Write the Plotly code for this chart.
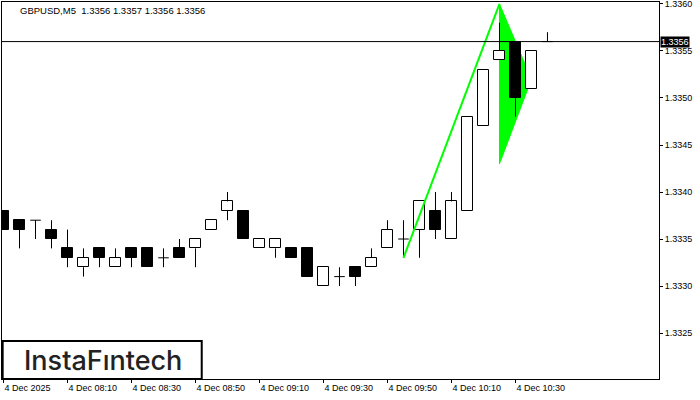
import plotly.graph_objects as go

# ---- data -------------------------------------------------------------
times = ["07:50", "07:55", "08:00", "08:05", "08:10", "08:15", "08:20", "08:25",
         "08:30", "08:35", "08:40", "08:45", "08:50", "08:55", "09:00", "09:05",
         "09:10", "09:15", "09:20", "09:25", "09:30", "09:35", "09:40", "09:45",
         "09:50", "09:55", "10:00", "10:05", "10:10", "10:15", "10:20", "10:25",
         "10:30", "10:35", "10:40"]
opens = [1.3338, 1.3337, 1.3337, 1.3336, 1.3334, 1.3332, 1.3334, 1.3332,
         1.3334, 1.3334, 1.3333, 1.3334, 1.3334, 1.3336, 1.3338, 1.3338,
         1.3334, 1.3334, 1.3334, 1.3334, 1.3330, 1.3331, 1.3332, 1.3332,
         1.3334, 1.3335, 1.3336, 1.3338, 1.3335, 1.3338, 1.3347, 1.3354,
         1.3356, 1.3351, 1.3356]
highs = [1.3338, 1.3337, 1.3337, 1.3337, 1.3336, 1.3334, 1.3334, 1.3334,
         1.3334, 1.3334, 1.3334, 1.3335, 1.3335, 1.3337, 1.3340, 1.3338,
         1.3335, 1.3335, 1.3334, 1.3334, 1.3332, 1.3332, 1.3332, 1.3334,
         1.3337, 1.3337, 1.3339, 1.3340, 1.3340, 1.3348, 1.3353, 1.3358,
         1.3356, 1.3355, 1.3357]
lows = [1.3336, 1.3334, 1.3335, 1.3334, 1.3332, 1.3331, 1.3332, 1.3332,
        1.3332, 1.3332, 1.3332, 1.3333, 1.3332, 1.3336, 1.3337, 1.3335,
        1.3334, 1.3333, 1.3333, 1.3331, 1.3330, 1.3330, 1.3330, 1.3332,
        1.3334, 1.3333, 1.3333, 1.3335, 1.3335, 1.3338, 1.3347, 1.3354,
        1.3348, 1.3351, 1.3356]
closes = [1.3336, 1.3336, 1.3337, 1.3335, 1.3333, 1.3333, 1.3333, 1.3333,
          1.3333, 1.3332, 1.3333, 1.3333, 1.3335, 1.3337, 1.3339, 1.3335,
          1.3335, 1.3335, 1.3333, 1.3331, 1.3332, 1.3331, 1.3331, 1.3333,
          1.3336, 1.3335, 1.3339, 1.3336, 1.3339, 1.3348, 1.3353, 1.3355,
          1.3350, 1.3355, 1.3356]

tick_times = ["07:50", "08:10", "08:30", "08:50", "09:10", "09:30", "09:50", "10:10", "10:30"]
tick_labels = ["4 Dec 2025", "4 Dec 08:10", "4 Dec 08:30", "4 Dec 08:50", "4 Dec 09:10",
               "4 Dec 09:30", "4 Dec 09:50", "4 Dec 10:10", "4 Dec 10:30"]
price_ticks = [1.3325, 1.3330, 1.3335, 1.3340, 1.3345, 1.3350, 1.3355, 1.3360]

pole_times = ["09:55", "10:25"]
pole_prices = [1.3333, 1.3360]
flag_times = ["10:25", "10:25", "10:35"]
flag_prices = [1.3360, 1.3343, 1.3352]

current_price = 1.3356
title_text = "GBPUSD,M5  1.3356 1.3357 1.3356 1.3356"
logo_text = "InstaFıntech"

# ---- build ------------------------------------------------------------
xi = list(range(len(times)))
tidx = {t: i for i, t in enumerate(times)}
half = 0.33

wx, wy = [], []
dx, dy = [], []
up_x, up_base, up_h = [], [], []
dn_x, dn_base, dn_h = [], [], []
for i, o, h, l, c in zip(xi, opens, highs, lows, closes):
    top, bot = max(o, c), min(o, c)
    if h > top:
        wx += [i, i, None]; wy += [top, h, None]
    if l < bot:
        wx += [i, i, None]; wy += [l, bot, None]
    if abs(c - o) < 1e-9:
        dx += [i - half, i + half, None]; dy += [o, o, None]
    elif c > o:
        up_x.append(i); up_base.append(o); up_h.append(c - o)
    else:
        dn_x.append(i); dn_base.append(c); dn_h.append(o - c)

fig = go.Figure()
fig.add_trace(go.Bar(x=up_x, y=up_h, base=up_base, width=2 * half,
                     marker=dict(color="white", line=dict(color="black", width=1))))
fig.add_trace(go.Bar(x=dn_x, y=dn_h, base=dn_base, width=2 * half,
                     marker=dict(color="black", line=dict(color="black", width=1))))
fig.add_trace(go.Scatter(x=wx, y=wy, mode="lines", line=dict(color="black", width=1)))
fig.add_trace(go.Scatter(x=dx, y=dy, mode="lines", line=dict(color="black", width=1)))
fig.add_trace(go.Scatter(x=[tidx[t] for t in pole_times], y=pole_prices, mode="lines",
                         line=dict(color="#00ff00", width=2)))

fx = [tidx[t] for t in flag_times]
path = "M {} {} L {} {} L {} {} Z".format(fx[0], flag_prices[0], fx[1], flag_prices[1],
                                           fx[2], flag_prices[2])
shapes = [
    dict(type="path", path=path, xref="x", yref="y", fillcolor="#00ff00",
         line=dict(color="#00ff00", width=1), layer="below"),
    dict(type="line", xref="paper", x0=0, x1=1, yref="y", y0=current_price, y1=current_price,
         line=dict(color="black", width=1)),
    dict(type="rect", xref="paper", yref="paper", x0=0.001, x1=0.304, y0=0.0, y1=0.101,
         line=dict(color="black", width=2), fillcolor="white"),
]

font = dict(family="Liberation Sans, Arial, sans-serif", size=9, color="black")

fig.update_layout(
    width=700, height=400,
    margin=dict(l=2, r=41, t=2, b=21, autoexpand=False),
    paper_bgcolor="white", plot_bgcolor="white",
    showlegend=False, barmode="overlay", bargap=0,
    font=font,
    shapes=shapes,
    hovermode=False,
    xaxis=dict(range=[-0.094, 40.97], showgrid=False, zeroline=False, automargin=False,
               showline=True, mirror=True, linecolor="black", linewidth=1,
               tickmode="array", tickvals=[tidx[t] for t in tick_times], ticktext=tick_labels,
               ticks="outside", ticklen=3, tickcolor="black",
               ticklabelposition="outside right", ticklabeloverflow="allow", tickfont=font),
    yaxis=dict(range=[1.332011, 1.336021], side="right", showgrid=False, zeroline=False,
               automargin=False,
               showline=True, mirror=True, linecolor="black", linewidth=1,
               tickmode="array", tickvals=price_ticks,
               ticktext=["{:.4f}".format(p) for p in price_ticks],
               ticks="outside", ticklen=3, tickcolor="black",
               ticklabeloverflow="allow", tickfont=font),
    annotations=[
        dict(text=title_text, xref="paper", yref="paper", x=0.024, y=0.977,
             xanchor="left", yanchor="middle", showarrow=False,
             font=dict(family="Liberation Sans, Arial, sans-serif", size=9.5, color="black")),
        dict(text="{:.4f}".format(current_price), xref="paper", yref="y", x=1, y=current_price,
             xanchor="left", yanchor="middle", xshift=1, showarrow=False, bgcolor="black",
             borderpad=0, font=dict(family="Liberation Sans, Arial, sans-serif", size=9, color="white")),
        dict(text=logo_text, xref="paper", yref="paper", x=0.153, y=0.05,
             xanchor="center", yanchor="middle", showarrow=False,
             font=dict(family="Inter, Lato, sans-serif", size=27, color="#222222", weight=500)),
    ],
)

fig.write_html("out.html", config={"displayModeBar": False},
               post_script="document.body.style.margin='0';")
